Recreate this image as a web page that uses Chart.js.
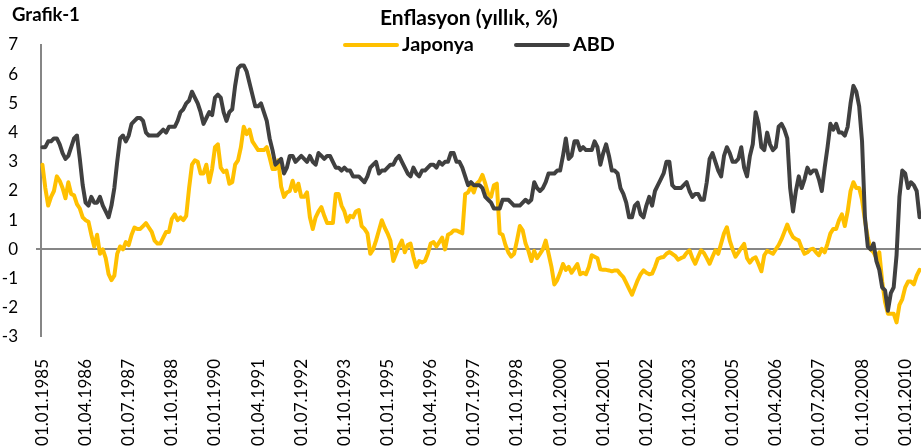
<!DOCTYPE html>
<html>
<head>
<meta charset="utf-8">
<script src="https://cdn.jsdelivr.net/npm/chart.js@4.4.0/dist/chart.umd.min.js"></script>
<style>
  html, body { margin: 0; padding: 0; background: #fff; }
  #wrap { width: 921px; height: 448px; }
</style>
</head>
<body>
<div id="wrap"><canvas id="enflasyonChart" width="921" height="448"></canvas></div>
<script>
// x axis labels, one every 15 months
const tickLabels = [
  '01.01.1985', '01.04.1986', '01.07.1987', '01.10.1988', '01.01.1990', '01.04.1991',
  '01.07.1992', '01.10.1993', '01.01.1995', '01.04.1996', '01.07.1997', '01.10.1998',
  '01.01.2000', '01.04.2001', '01.07.2002', '01.10.2003', '01.01.2005', '01.04.2006',
  '01.07.2007', '01.10.2008', '01.01.2010'
];
const tickEvery = 15;

// monthly yoy %, Jan 1985 - Jun 2010
const japonya = [
  2.9, 2.1, 1.5, 1.8, 2.0, 2.5, 2.35, 2.1, 1.75, 2.3, 1.9, 1.85,
  1.55, 1.4, 1.1, 1.0, 0.95, 0.5, 0.1, 0.5, -0.15, 0.0, -0.3, -0.85,
  -1.05, -0.9, -0.15, 0.1, 0.0, 0.25, 0.15, 0.5, 0.75, 0.7, 0.7, 0.8,
  0.9, 0.75, 0.6, 0.3, 0.2, 0.2, 0.4, 0.6, 0.6, 1.05, 1.2, 1.0,
  1.1, 1.0, 1.15, 2.1, 2.9, 3.05, 3.0, 2.6, 2.6, 2.9, 2.3, 2.75,
  3.5, 3.6, 2.8, 2.65, 2.7, 2.25, 2.3, 2.9, 3.05, 3.5, 4.2, 3.95,
  4.1, 3.7, 3.55, 3.4, 3.4, 3.4, 3.5, 3.15, 2.75, 2.75, 3.05, 2.15,
  1.8, 1.95, 2.0, 2.35, 2.0, 2.25, 1.8, 1.8, 1.95, 1.1, 0.7, 1.1,
  1.3, 1.45, 1.15, 0.9, 0.9, 0.9, 1.9, 1.9, 1.5, 1.3, 0.95, 1.15,
  1.1, 1.3, 1.35, 0.8, 0.7, 0.55, -0.15, 0.0, 0.3, 0.65, 1.0, 0.75,
  0.55, 0.3, -0.4, -0.15, 0.1, 0.3, -0.1, 0.15, 0.2, -0.25, -0.6, -0.4,
  -0.45, -0.4, -0.15, 0.2, 0.25, 0.1, 0.25, 0.4, 0.0, 0.5, 0.55, 0.65,
  0.65, 0.6, 0.55, 1.9, 1.95, 2.15, 1.95, 2.25, 2.35, 2.55, 2.25, 1.9,
  1.8, 2.2, 2.25, 0.55, 0.5, 0.15, -0.1, -0.25, -0.15, 0.3, 0.8, 0.65,
  0.2, -0.05, -0.4, -0.05, -0.3, -0.15, 0.0, 0.3, -0.15, -0.6, -1.2, -1.05,
  -0.8, -0.5, -0.7, -0.6, -0.8, -0.65, -0.5, -0.85, -0.8, -0.85, -0.6, -0.2,
  -0.25, -0.3, -0.68, -0.7, -0.7, -0.72, -0.75, -0.72, -0.72, -0.85, -0.95, -1.15,
  -1.35, -1.55, -1.3, -1.05, -0.85, -0.72, -0.8, -0.85, -0.83, -0.6, -0.32, -0.28,
  -0.26, -0.15, -0.09, -0.15, -0.22, -0.35, -0.3, -0.26, -0.12, -0.03, -0.3, -0.49,
  -0.25, -0.03, -0.12, -0.3, -0.49, -0.25, -0.03, -0.15, 0.2, 0.55, 0.76, 0.3,
  0.0, -0.25, -0.1, 0.05, 0.19, -0.3, -0.45, -0.32, -0.27, -0.5, -0.75, -0.2,
  -0.05, -0.1, -0.15, 0.0, 0.15, 0.35, 0.6, 0.85, 0.6, 0.42, 0.35, 0.31,
  0.05, -0.15, -0.1, 0.0, 0.02, -0.1, -0.2, 0.02, -0.1, 0.2, 0.55, 0.7,
  0.7, 1.0, 1.2, 0.8, 1.3, 2.0, 2.3, 2.1, 2.1, 1.7, 1.0, 0.4,
  0.0, -0.1, -0.3, -0.1, -1.1, -1.8, -2.2, -2.2, -2.2, -2.5, -1.9, -1.7,
  -1.3, -1.1, -1.1, -1.2, -0.9, -0.7
];

const abd = [
  3.5, 3.5, 3.7, 3.7, 3.8, 3.8, 3.6, 3.3, 3.1, 3.2, 3.5, 3.8,
  3.9, 3.1, 2.2, 1.6, 1.5, 1.8, 1.6, 1.6, 1.8, 1.5, 1.3, 1.1,
  1.5, 2.1, 3.0, 3.8, 3.9, 3.7, 3.9, 4.3, 4.4, 4.5, 4.5, 4.4,
  4.0, 3.9, 3.9, 3.9, 3.9, 4.0, 4.1, 4.0, 4.2, 4.2, 4.2, 4.4,
  4.7, 4.8, 5.0, 5.1, 5.4, 5.2, 5.0, 4.7, 4.3, 4.5, 4.7, 4.6,
  5.2, 5.3, 5.2, 4.7, 4.4, 4.7, 4.8, 5.6, 6.2, 6.3, 6.3, 6.1,
  5.7, 5.3, 4.9, 4.9, 5.0, 4.7, 4.4, 3.8, 3.4, 2.9, 3.0, 3.1,
  2.6, 2.8, 3.2, 3.2, 3.0, 3.1, 3.2, 3.1, 3.0, 3.2, 3.0, 2.9,
  3.3, 3.2, 3.1, 3.2, 3.2, 3.0, 2.8, 2.8, 2.7, 2.8, 2.7, 2.7,
  2.5, 2.5, 2.5, 2.4, 2.3, 2.5, 2.8, 2.9, 3.0, 2.6, 2.7, 2.7,
  2.8, 2.9, 2.9, 3.1, 3.2, 3.0, 2.8, 2.6, 2.5, 2.8, 2.6, 2.5,
  2.7, 2.7, 2.8, 2.9, 2.9, 2.8, 3.0, 2.9, 3.0, 3.0, 3.3, 3.3,
  3.0, 3.0, 2.8, 2.5, 2.2, 2.3, 2.2, 2.2, 2.2, 2.1, 1.8, 1.7,
  1.6, 1.4, 1.4, 1.4, 1.7, 1.7, 1.7, 1.6, 1.5, 1.5, 1.5, 1.6,
  1.7, 1.6, 1.7, 2.3, 2.1, 2.0, 2.1, 2.3, 2.6, 2.6, 2.6, 2.7,
  2.7, 3.2, 3.8, 3.1, 3.2, 3.7, 3.7, 3.4, 3.5, 3.4, 3.4, 3.4,
  3.7, 3.5, 2.9, 3.3, 3.6, 3.2, 2.7, 2.7, 2.6, 2.1, 1.9, 1.6,
  1.1, 1.1, 1.5, 1.6, 1.2, 1.1, 1.5, 1.8, 1.5, 2.0, 2.2, 2.4,
  2.6, 3.0, 3.0, 2.2, 2.1, 2.1, 2.1, 2.2, 2.3, 2.0, 1.8, 1.9,
  1.9, 1.7, 1.7, 2.3, 3.1, 3.3, 3.0, 2.7, 2.5, 3.2, 3.5, 3.3,
  3.0, 3.0, 3.1, 3.5, 2.8, 2.5, 3.2, 3.6, 4.7, 4.3, 3.5, 3.4,
  4.0, 3.6, 3.4, 3.5, 4.2, 4.3, 4.1, 3.8, 2.1, 1.3, 2.0, 2.5,
  2.1, 2.4, 2.8, 2.6, 2.7, 2.7, 2.4, 2.0, 2.8, 3.5, 4.3, 4.1,
  4.3, 4.0, 4.0, 3.9, 4.2, 5.0, 5.6, 5.4, 4.9, 3.7, 1.1, 0.1,
  0.0, 0.2, -0.4, -0.7, -1.3, -1.4, -2.1, -1.5, -1.3, -0.2, 1.8, 2.7,
  2.6, 2.1, 2.3, 2.2, 2.0, 1.1
];

// one category per month
const months = [];
for (let i = 0; i < abd.length; i++) {
  const m = i % 12 + 1;
  months.push('01.' + (m < 10 ? '0' + m : m) + '.' + (1985 + Math.floor(i / 12)));
}

const axisGray = '#868686';
const fontName = 'Lato, "Open Sans", sans-serif';

// pick a bold font size so the text spans the given width
function fitFont(c, text, width) {
  c.font = 'bold 20px ' + fontName;
  const size = 20 * width / c.measureText(text).width;
  return 'bold ' + size.toFixed(1) + 'px ' + fontName;
}

// title, "Grafik-1" and the legend sit over the plot like in the excel chart
const headerPlugin = {
  id: 'header',
  afterDraw(chart) {
    const c = chart.ctx;
    c.save();
    c.fillStyle = '#000';
    c.textBaseline = 'alphabetic';
    c.textAlign = 'left';
    c.font = fitFont(c, 'Grafik-1', 68);
    c.fillText('Grafik-1', 12, 21);

    c.font = fitFont(c, 'Enflasyon (yıllık, %)', 178);
    c.fillText('Enflasyon (yıllık, %)', 380, 25);

    const legendX = [345, 516];
    const legendFont = fitFont(c, 'Japonya', 72);
    chart.data.datasets.forEach((ds, i) => {
      const x = legendX[i];
      c.strokeStyle = ds.borderColor;
      c.lineWidth = 4;
      c.lineCap = 'round';
      c.beginPath();
      c.moveTo(x, 45);
      c.lineTo(x + 52, 45);
      c.stroke();
      c.font = legendFont;
      c.fillText(ds.label, x + 57, 51);
    });
    c.restore();
  }
};

const ctx = document.getElementById('enflasyonChart').getContext('2d');
const chart = new Chart(ctx, {
  type: 'line',
  data: {
    labels: months,
    datasets: [
      {
        label: 'Japonya',
        data: japonya,
        borderColor: '#FFC000',
        order: 1
      },
      {
        label: 'ABD',
        data: abd,
        borderColor: '#404040',
        order: 0
      }
    ]
  },
  options: {
    responsive: false,
    animation: false,
    layout: { padding: { top: 45, right: 0, bottom: 0, left: 0 } },
    elements: {
      point: { radius: 0 },
      line: { borderWidth: 4, tension: 0, borderJoinStyle: 'round', borderCapStyle: 'round' }
    },
    plugins: {
      legend: { display: false },
      title: { display: false },
      tooltip: { enabled: false }
    },
    scales: {
      x: {
        offset: true,
        grid: { display: false, drawTicks: false },
        border: { display: false },
        ticks: {
          autoSkip: false,
          maxRotation: 90,
          minRotation: 90,
          padding: 22,
          color: '#000',
          font: { family: fontName, size: 17 },
          callback: (val, idx) => idx % tickEvery === 0 ? tickLabels[idx / tickEvery] : ''
        },
        afterFit(axis) {
          axis.height = 111;
          axis.paddingLeft = 0;
          axis.paddingRight = 0;
        }
      },
      y: {
        min: -3,
        max: 7,
        ticks: {
          stepSize: 1,
          padding: 18,
          color: '#000',
          font: { family: fontName, size: 17 }
        },
        grid: {
          drawTicks: true,
          tickLength: 5,
          tickColor: axisGray,
          color: (c) => c.tick && c.tick.value === 0 ? axisGray : 'rgba(0,0,0,0)',
          lineWidth: (c) => c.tick && c.tick.value === 0 ? 2 : 0
        },
        border: { color: axisGray, width: 2 },
        afterFit(axis) {
          axis.width = 41;
          axis.paddingTop = 0;
          axis.paddingBottom = 0;
        }
      }
    }
  },
  plugins: [headerPlugin]
});
</script>
</body>
</html>
